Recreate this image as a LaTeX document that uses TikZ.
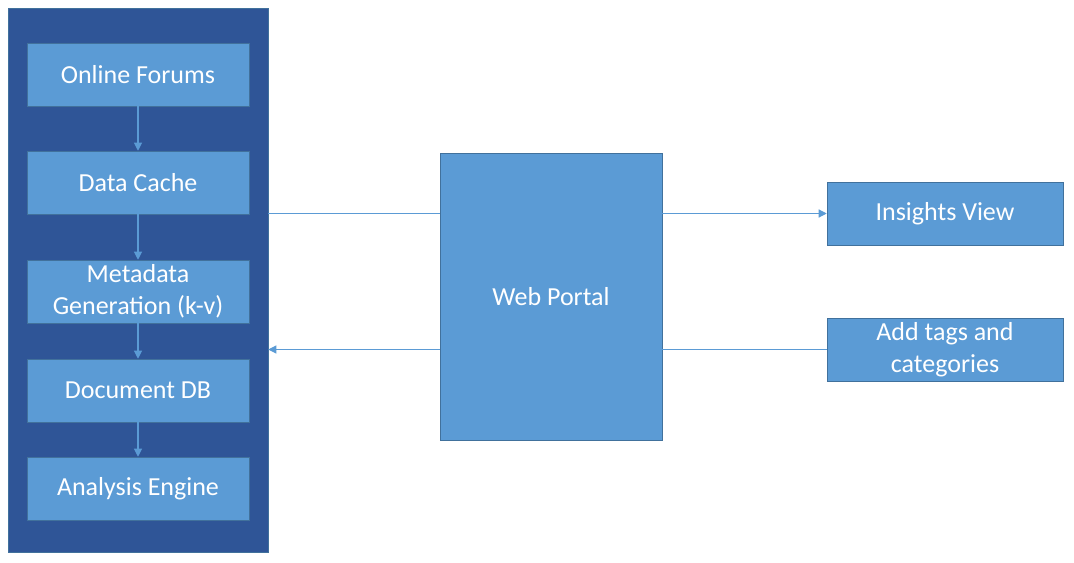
\documentclass[tikz,border=0pt]{standalone}
\usepackage{fontspec}
\setmainfont{Carlito}
\usepackage{tikz}
\usetikzlibrary{arrows.meta}
\definecolor{paneldark}{HTML}{2F5597}
\definecolor{boxblue}{HTML}{5B9BD5}
\definecolor{boxedge}{HTML}{41719C}

\begin{document}
\begin{tikzpicture}[>={Triangle[length=6pt,width=6pt]}, x=0.75pt, y=-0.75pt,
    stage/.style={draw=boxedge, fill=boxblue, text=white, align=center,
        minimum width=166.5pt, minimum height=47.25pt, inner sep=0pt,
        font=\fontsize{19.5}{24}\selectfont},
    link/.style={draw=boxblue, line width=0.8pt}]

\useasboundingbox (0,0) rectangle (1074,563);

% Bloc esquerre
\node[draw=boxedge, fill=paneldark, minimum width=195pt, minimum height=408pt,
    inner sep=0pt] (pipeline) at (138,280) {};

\node[stage] (forums)   at (138,74.5)  {Online Forums};
\node[stage] (cache)    at (138,182.5) {Data Cache};
\node[stage] (metadata) at (138,291.5) {Metadata\\Generation (k-v)};
\node[stage] (docdb)    at (138,390.5) {Document DB};
\node[stage] (analysis) at (138,488.5) {Analysis Engine};

% Portal i vistes
\node[stage, minimum height=215.25pt] (portal) at (551,296.5) {Web Portal};
\node[stage, minimum width=177pt] (insights) at (945,213.5) {Insights View};
\node[stage, minimum width=177pt] (tags) at (945,349.5) {Add tags and\\categories};

% Fletxes verticals
\draw[link, ->] (forums) -- (cache);
\draw[link, ->] (cache) -- (metadata);
\draw[link, ->] (metadata) -- (docdb);
\draw[link, ->] (docdb) -- (analysis);

% Connexions
\draw[link] (pipeline.east |- insights) -- (portal.west |- insights);
\draw[link, ->] (portal.east |- insights) -- (insights.west);
\draw[link, ->] (portal.west |- tags) -- (pipeline.east |- tags);
\draw[link] (tags.west) -- (portal.east |- tags);

\end{tikzpicture}
\end{document}
